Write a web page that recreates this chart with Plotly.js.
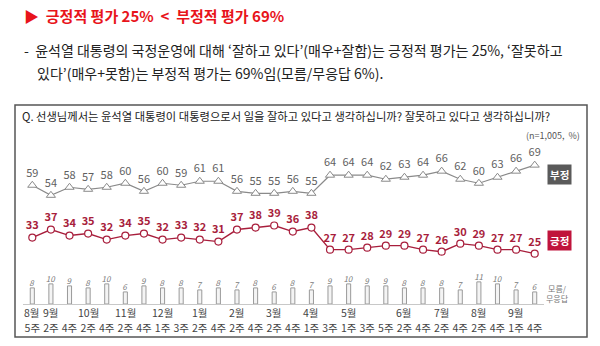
<!DOCTYPE html>
<html><head><meta charset="utf-8">
<script src="https://cdn.plot.ly/plotly-3.0.1.min.js"></script>
<style>html,body{margin:0;padding:0;background:#fff;}#c{width:600px;height:346px;}</style>
</head><body><div id="c"></div>
<script>
const weeks = ["5주","2주","4주","2주","4주","2주","4주","1주","3주","2주","4주","2주","4주","2주","4주","1주","3주","1주","3주","5주","2주","4주","2주","4주","2주","4주","1주","4주"];
const months = ["8월","9월","","10월","","11월","","12월","","1월","","2월","","3월","","4월","","5월","","","6월","","7월","","8월","","9월",""];
const negative = [59,54,58,57,58,60,56,60,59,61,61,56,55,55,56,55,64,64,64,62,63,64,66,62,60,63,66,69];
const positive = [33,37,34,35,32,34,35,32,33,32,31,37,38,39,36,38,27,27,28,29,29,27,26,30,29,27,27,25];
const unknown = [8,10,9,8,10,6,9,8,8,7,8,7,8,6,8,7,9,10,9,9,8,8,8,7,11,10,7,6];

const idx = weeks.map((_, i) => i);
const ML = 23, MR = 56, W = 600, H = 346, PB = 304, PH = 161;
const PW = W - ML - MR;
const xp = px => (px - ML) / PW;
const yp = py => (PB - py) / PH;
const FONT = "Noto Sans CJK KR, Noto Sans, sans-serif";
const RED = "#a81e3c";

const traces = [
  {type: "bar", x: idx, y: unknown, width: 0.22,
   marker: {color: "#f4f4f4", line: {color: "#9a9a9a", width: 1}},
   text: unknown.map(String), textposition: "outside", constraintext: "none", cliponaxis: false,
   textfont: {family: FONT, size: 8, color: "#7a7a7a", style: "italic"},
   hoverinfo: "none"},
  {type: "scatter", mode: "lines+markers+text", x: idx, y: negative,
   line: {color: "#8a8a8a", width: 1.2},
   marker: {symbol: "triangle-up", size: 8, color: "#fff", line: {color: "#8a8a8a", width: 1}},
   text: negative.map(String), textposition: "top center", cliponaxis: false,
   textfont: {family: FONT, size: 11, color: "#5f5f5f"}},
  {type: "scatter", mode: "lines+markers+text", x: idx, y: positive,
   line: {color: RED, width: 1.4},
   marker: {symbol: "circle", size: 7, color: "#fff", line: {color: RED, width: 1.2}},
   text: positive.map(v => "<b>" + v + "</b>"), textposition: "top center", cliponaxis: false,
   textfont: {family: FONT, size: 11, color: RED}}
];

const ann = [];
months.forEach((m, i) => {
  if (m) ann.push({x: i, xref: "x", y: yp(312), yref: "paper", text: m, showarrow: false,
    xanchor: "center", yanchor: "middle", font: {family: FONT, size: 10.5, color: "#444"}});
});
ann.push(
  {x: xp(22), y: yp(16), xref: "paper", yref: "paper", xanchor: "left", yanchor: "middle", showarrow: false,
   text: "<b>▶  긍정적 평가 25%  <  부정적 평가 69%</b>", font: {family: FONT, size: 15, color: "#e8141b"}},
  {x: xp(22), y: yp(50), xref: "paper", yref: "paper", xanchor: "left", yanchor: "middle", showarrow: false,
   text: "-  윤석열 대통령의 국정운영에 대해 ‘잘하고 있다’(매우+잘함)는 긍정적 평가는 25%, ‘잘못하고", font: {family: FONT, size: 14, color: "#222"}},
  {x: xp(35), y: yp(73), xref: "paper", yref: "paper", xanchor: "left", yanchor: "middle", showarrow: false,
   text: "있다’(매우+못함)는 부정적 평가는 69%임(모름/무응답 6%).", font: {family: FONT, size: 14, color: "#222"}},
  {x: xp(20), y: yp(116), xref: "paper", yref: "paper", xanchor: "left", yanchor: "middle", showarrow: false,
   text: "Q. 선생님께서는 윤석열 대통령이 대통령으로서 일을 잘하고 있다고 생각하십니까? 잘못하고 있다고 생각하십니까?", font: {family: FONT, size: 11.3, color: "#222"}},
  {x: xp(582), y: yp(135), xref: "paper", yref: "paper", xanchor: "right", yanchor: "middle", showarrow: false,
   text: "(n=1,005,  %)", font: {family: FONT, size: 9, color: "#555"}},
  {x: xp(559), y: yp(174), xref: "paper", yref: "paper", xanchor: "center", yanchor: "middle", showarrow: false,
   text: "<b>부정</b>", bgcolor: "#5a5a5a", borderpad: 2, font: {family: FONT, size: 10.5, color: "#fff"}},
  {x: xp(559), y: yp(240), xref: "paper", yref: "paper", xanchor: "center", yanchor: "middle", showarrow: false,
   text: "<b>긍정</b>", bgcolor: "#c0143c", borderpad: 2, font: {family: FONT, size: 10.5, color: "#fff"}},
  {x: xp(557), y: yp(293), xref: "paper", yref: "paper", xanchor: "center", yanchor: "middle", showarrow: false,
   text: "모름/<br>무응답", font: {family: FONT, size: 8, color: "#777"}}
);

const layout = {
  width: W, height: H, paper_bgcolor: "#fff", plot_bgcolor: "rgba(0,0,0,0)",
  margin: {l: ML, r: MR, t: PB - PH, b: H - PB, pad: 0},
  showlegend: false, font: {family: FONT},
  xaxis: {range: [-0.5, 27.5], tickvals: idx, ticktext: weeks, showgrid: false, zeroline: false,
          showline: true, linecolor: "#c8c8c8", linewidth: 1, ticks: "", ticklabelstandoff: 14,
          tickfont: {family: FONT, size: 10.5, color: "#444"}, fixedrange: true},
  yaxis: {range: [0, 80], visible: false, fixedrange: true},
  annotations: ann,
  shapes: [{type: "rect", xref: "paper", yref: "paper", x0: xp(15), x1: xp(587), y0: yp(337), y1: yp(105),
            line: {color: "#555", width: 1.5}, fillcolor: "rgba(0,0,0,0)", layer: "below"}]
};
Plotly.newPlot("c", traces, layout, {displayModeBar: false, staticPlot: true});
</script></body></html>
